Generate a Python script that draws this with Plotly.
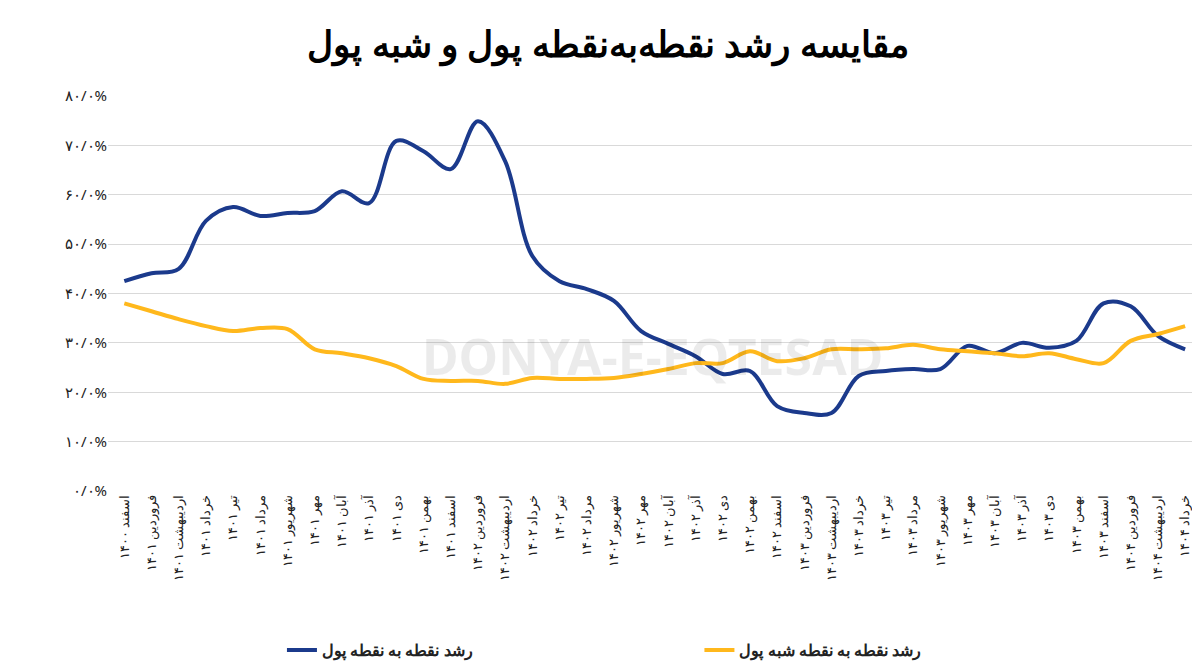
import plotly.graph_objects as go

months = ["اسفند ۱۴۰۰", "فروردین ۱۴۰۱", "اردیبهشت ۱۴۰۱", "خرداد ۱۴۰۱", "تیر ۱۴۰۱", "مرداد ۱۴۰۱",
          "شهریور ۱۴۰۱", "مهر ۱۴۰۱", "آبان ۱۴۰۱", "آذر ۱۴۰۱", "دی ۱۴۰۱", "بهمن ۱۴۰۱",
          "اسفند ۱۴۰۱", "فروردین ۱۴۰۲", "اردیبهشت ۱۴۰۲", "خرداد ۱۴۰۲", "تیر ۱۴۰۲", "مرداد ۱۴۰۲",
          "شهریور ۱۴۰۲", "مهر ۱۴۰۲", "آبان ۱۴۰۲", "آذر ۱۴۰۲", "دی ۱۴۰۲", "بهمن ۱۴۰۲",
          "اسفند ۱۴۰۲", "فروردین ۱۴۰۳", "اردیبهشت ۱۴۰۳", "خرداد ۱۴۰۳", "تیر ۱۴۰۳", "مرداد ۱۴۰۳",
          "شهریور ۱۴۰۳", "مهر ۱۴۰۳", "آبان ۱۴۰۳", "آذر ۱۴۰۳", "دی ۱۴۰۳", "بهمن ۱۴۰۳",
          "اسفند ۱۴۰۳", "فروردین ۱۴۰۴", "اردیبهشت ۱۴۰۴", "خرداد ۱۴۰۴"]

money = [42.5, 44.1, 45.0, 54.7, 57.5, 55.7, 56.3, 56.7, 60.7, 58.3,
         70.9, 68.8, 65.2, 74.9, 66.8, 47.6, 42.5, 40.9, 38.5, 32.4,
         29.8, 27.3, 23.7, 24.3, 17.2, 15.8, 15.8, 23.3, 24.3, 24.7,
         24.7, 29.4, 27.9, 30.0, 29.0, 30.4, 38.0, 37.4, 31.4, 28.7]

quasi_money = [38.0, 36.4, 34.8, 33.4, 32.4, 33.0, 32.8, 28.7, 27.9, 26.9,
               25.3, 22.7, 22.3, 22.3, 21.7, 22.9, 22.7, 22.7, 22.9, 23.7,
               24.7, 25.9, 25.9, 28.3, 26.3, 26.9, 28.7, 28.7, 28.9, 29.6,
               28.7, 28.3, 27.9, 27.3, 27.9, 26.7, 25.9, 30.4, 31.8, 33.4]

y_ticks = [0, 10, 20, 30, 40, 50, 60, 70, 80]
y_labels = ["۰/۰%", "۱۰/۰%", "۲۰/۰%", "۳۰/۰%", "۴۰/۰%", "۵۰/۰%", "۶۰/۰%", "۷۰/۰%", "۸۰/۰%"]

fig = go.Figure()
fig.add_trace(go.Scatter(x=months, y=money, mode="lines", line_shape="spline",
                         line=dict(color="#1B3A8C", width=4), name="<b>رشد نقطه به نقطه پول</b>"))
fig.add_trace(go.Scatter(x=months, y=quasi_money, mode="lines", line_shape="spline",
                         line=dict(color="#FFB81C", width=4), name="<b>رشد نقطه به نقطه شبه پول</b>"))

# faint watermark
fig.add_annotation(x=0.5, y=0.25, xref="paper", yref="paper", text="<b>DONYA-E-EQTESAD</b>",
                   showarrow=False, font=dict(size=50, color="rgba(0,0,0,0.08)", family="Noto Sans"))

fig.update_layout(
    width=1200, height=671,
    title=dict(text="<b>مقایسه رشد نقطه‌به‌نقطه پول و شبه پول</b>", x=0.5, y=0.965,
               font=dict(size=36, color="black", family="Noto Sans")),
    font=dict(family="Noto Sans", color="#222", size=13),
    plot_bgcolor="white", paper_bgcolor="white",
    margin=dict(l=100, r=12, t=88, b=180),
    xaxis=dict(tickangle=-90, showgrid=False, showline=False, ticks="",
               range=[-0.6, 39.4], tickfont=dict(size=13, color="#222")),
    yaxis=dict(range=[0, 80], tickvals=y_ticks, ticktext=y_labels, showgrid=True,
               gridcolor="#d9d9d9", zeroline=False, ticks="", tickfont=dict(size=15, color="#222")),
    legend=dict(orientation="h", x=0.175, y=-0.36, xanchor="left", entrywidthmode="fraction",
                entrywidth=0.42, font=dict(size=16, color="#222")),
)

fig.write_html("out.html")
